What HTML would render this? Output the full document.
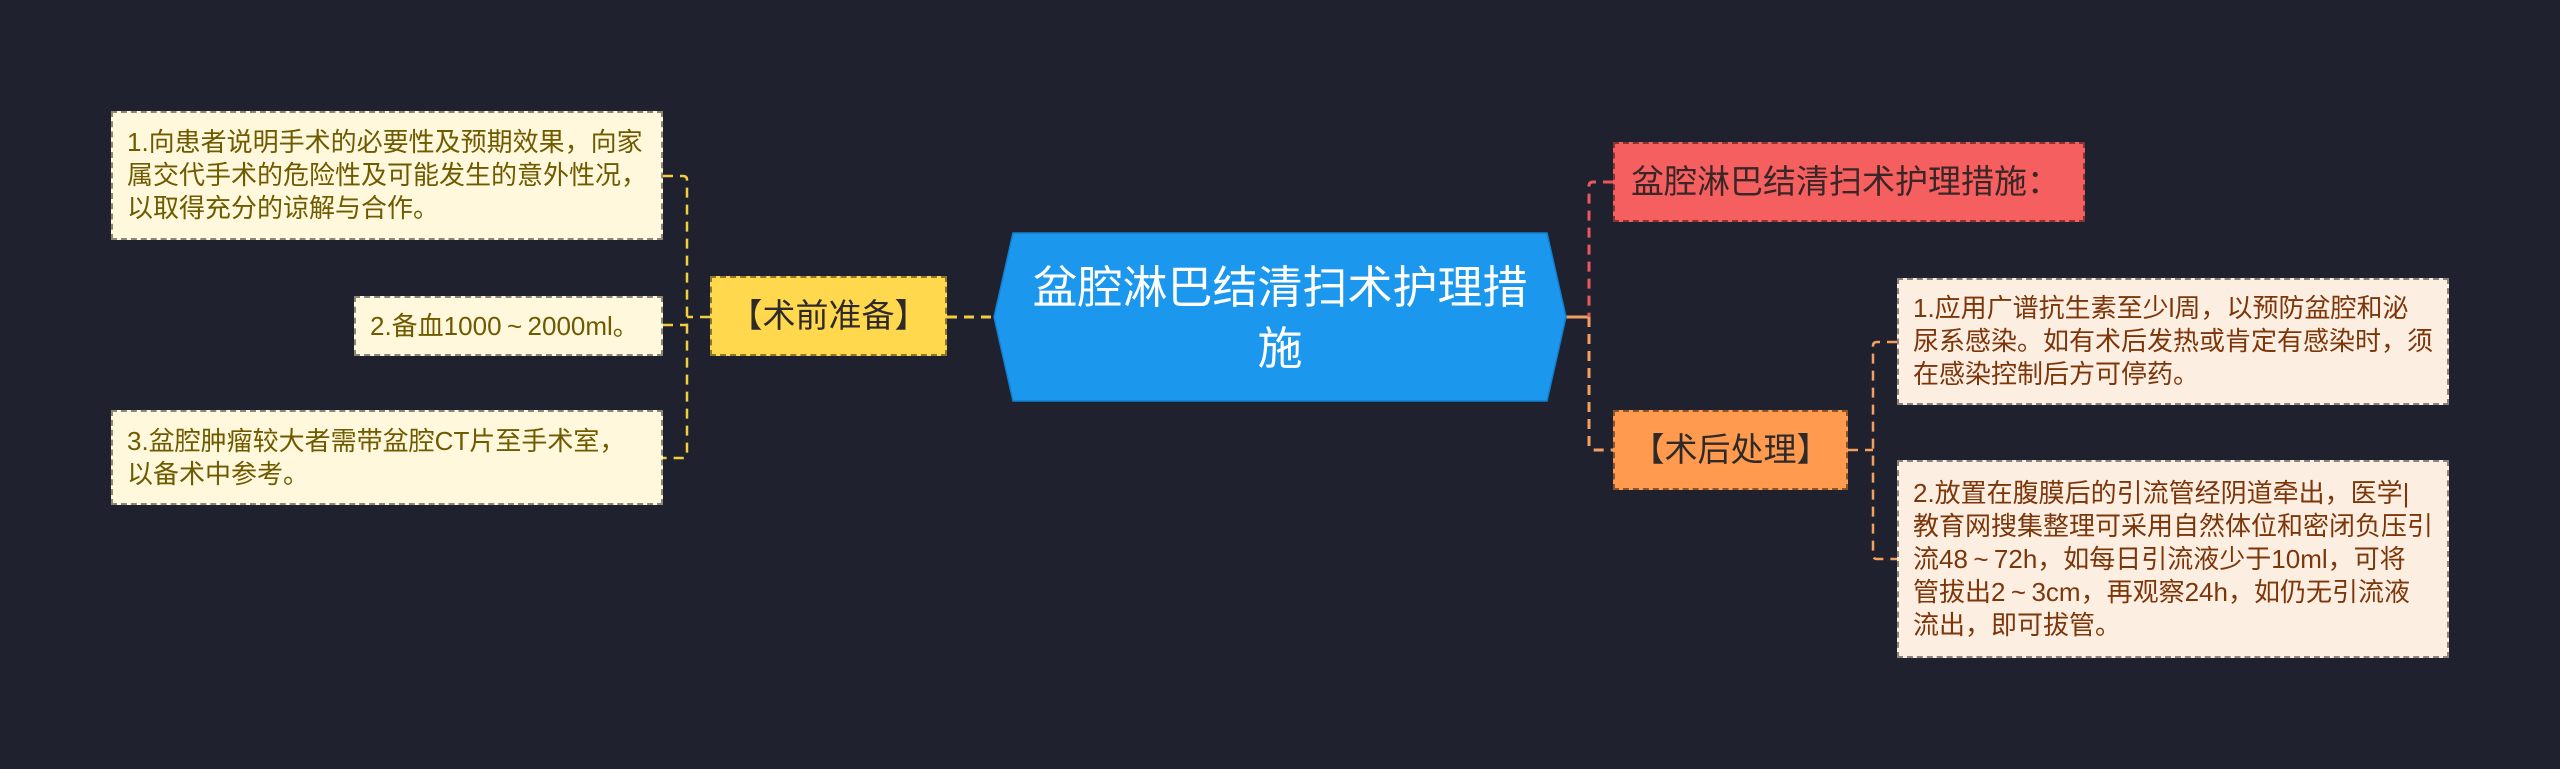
<!DOCTYPE html>
<html>
<head>
<meta charset="utf-8">
<style>
  html, body { margin:0; padding:0; }
  body {
    width:2560px; height:769px; overflow:hidden; position:relative;
    background:#1f222e;
    font-family:"Liberation Sans","Noto Sans CJK SC",sans-serif;
  }
  svg.lines { position:absolute; left:0; top:0; }
  .box {
    position:absolute; box-sizing:border-box;
    border:2px dashed rgba(0,0,0,0.45);
    display:flex; align-items:center;
    white-space:nowrap;
  }
  .leaf { font-size:26px; line-height:33px; padding-left:14px; }
  .ly { background:#fff8dc; color:#6f5a00; }
  .ro { background:#fdeee2; color:#7c360a; }
  .mid { font-size:33px; line-height:40px; color:#2e2a2a; }
  .t { display:inline-block; width:1em; text-align:center; }
</style>
</head>
<body>
<svg class="lines" width="2560" height="769" viewBox="0 0 2560 769">
  <!-- left (yellow) connectors -->
  <g fill="none" stroke="#f2cd3e" stroke-width="2.5" stroke-dasharray="10 7">
    <line x1="947" y1="317" x2="994" y2="317" stroke-width="3"/>
    <line x1="710" y1="317" x2="687" y2="317"/>
    <path d="M663 176 H683 Q687 176 687 180 V454 Q687 458 683 458 H663"/>
    <line x1="663" y1="325" x2="687" y2="325"/>
  </g>
  <!-- right connectors -->
  <line x1="1566" y1="317" x2="1589" y2="317" stroke="#f3a05e" stroke-width="3"/>
  <g fill="none" stroke-width="3" stroke-dasharray="10 7">
    <path d="M1613 182 H1593 Q1589 182 1589 186 V317" stroke="#e8585c"/>
    <path d="M1589 317 V446 Q1589 450 1593 450 H1613" stroke="#f3a05e"/>
  </g>
  <g fill="none" stroke="#f3a05e" stroke-width="2.5" stroke-dasharray="10 7">
    <line x1="1848" y1="450" x2="1873" y2="450"/>
    <path d="M1897 342 H1877 Q1873 342 1873 346 V555 Q1873 559 1877 559 H1897"/>
  </g>
  <!-- center hexagon -->
  <polygon points="994,317 1013,233 1547,233 1566,317 1547,401 1013,401" fill="#1b97ee" stroke="#1380cf" stroke-width="1.5"/>
  <text x="1280" y="303" text-anchor="middle" fill="#ffffff" font-size="45" font-family="Liberation Sans, Noto Sans CJK SC, sans-serif">盆腔淋巴结清扫术护理措</text>
  <text x="1280" y="364" text-anchor="middle" fill="#ffffff" font-size="45" font-family="Liberation Sans, Noto Sans CJK SC, sans-serif">施</text>
</svg>

<!-- left leaves -->
<div class="box leaf ly" style="left:111px;top:111px;width:552px;height:129px;">
  <div>1.向患者说明手术的必要性及预期效果，向家<br>属交代手术的危险性及可能发生的意外性况，<br>以取得充分的谅解与合作。</div>
</div>
<div class="box leaf ly" style="left:354px;top:296px;width:309px;height:60px;">
  <div>2.备血1000<span class="t">~</span>2000ml。</div>
</div>
<div class="box leaf ly" style="left:111px;top:410px;width:552px;height:95px;">
  <div>3.盆腔肿瘤较大者需带盆腔CT片至手术室，<br>以备术中参考。</div>
</div>

<!-- 术前准备 -->
<div class="box mid" style="left:710px;top:276px;width:237px;height:80px;background:#ffd84d;justify-content:center;">
  <div>【术前准备】</div>
</div>

<!-- red -->
<div class="box mid" style="left:1613px;top:142px;width:472px;height:80px;background:#f65f5f;padding-left:16px;color:#3a2626;">
  <div>盆腔淋巴结清扫术护理措施：</div>
</div>

<!-- 术后处理 -->
<div class="box mid" style="left:1613px;top:410px;width:235px;height:80px;background:#ff9a4f;justify-content:center;">
  <div>【术后处理】</div>
</div>

<!-- right leaves -->
<div class="box leaf ro" style="left:1897px;top:278px;width:552px;height:127px;">
  <div>1.应用广谱抗生素至少l周，以预防盆腔和泌<br>尿系感染。如有术后发热或肯定有感染时，须<br>在感染控制后方可停药。</div>
</div>
<div class="box leaf ro" style="left:1897px;top:460px;width:552px;height:198px;">
  <div>2.放置在腹膜后的引流管经阴道牵出，医学|<br>教育网搜集整理可采用自然体位和密闭负压引<br>流48<span class="t">~</span>72h，如每日引流液少于10ml，可将<br>管拔出2<span class="t">~</span>3cm，再观察24h，如仍无引流液<br>流出，即可拔管。</div>
</div>
</body>
</html>
